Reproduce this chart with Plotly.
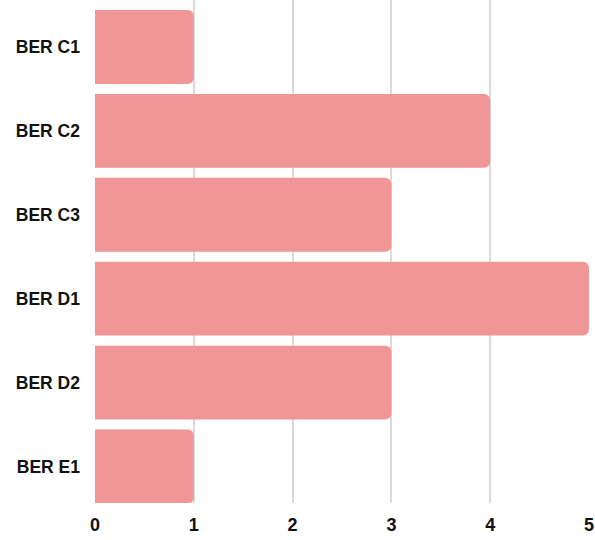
import plotly.graph_objects as go

categories = ["BER C1", "BER C2", "BER C3", "BER D1", "BER D2", "BER E1"]
values = [1, 4, 3, 5, 3, 1]
x_ticks = [0, 1, 2, 3, 4, 5]

bar_color = "#F09696"
grid_color = "#DADADA"
y_font = dict(family="Liberation Sans, Arial, sans-serif", size=17.5, color="#111111", weight="bold")
x_font = dict(family="Liberation Sans, Arial, sans-serif", size=18, color="#111111", weight="bold")

fig = go.Figure(
    go.Bar(
        x=values,
        y=categories,
        orientation="h",
        marker=dict(color=bar_color, line=dict(width=0)),
        hoverinfo="x+y",
    )
)

fig.update_layout(
    width=595,
    height=540,
    margin=dict(l=95, r=5, t=0, b=37),
    paper_bgcolor="white",
    plot_bgcolor="white",
    bargap=0.12,
    barcornerradius=6,
    showlegend=False,
    xaxis=dict(
        range=[0, 5.01],
        tickvals=x_ticks,
        showgrid=True,
        gridcolor=grid_color,
        gridwidth=1.5,
        zeroline=False,
        showline=False,
        tickfont=x_font,
        ticks="",
        ticklabelstandoff=9,
    ),
    yaxis=dict(
        categoryorder="array",
        categoryarray=categories,
        range=[5.435, -0.56],
        showgrid=False,
        zeroline=False,
        showline=False,
        tickfont=y_font,
        ticks="",
        ticklabelstandoff=14,
    ),
)

fig.write_html("out.html")
